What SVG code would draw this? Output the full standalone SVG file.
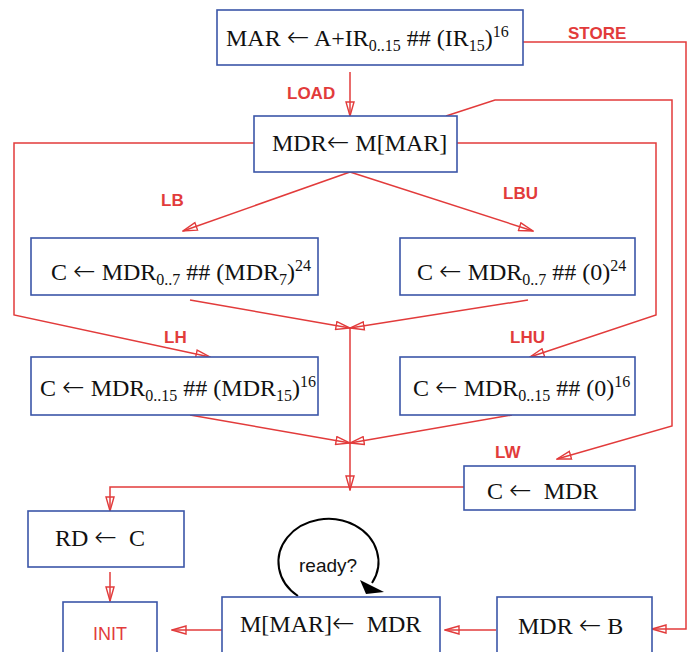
<svg xmlns="http://www.w3.org/2000/svg" width="688" height="652" viewBox="0 0 688 652">
<style>
.box{fill:#fff;stroke:#3b56a8;stroke-width:1.6}
.t{font-family:"Liberation Serif","Times New Roman",serif;font-size:24px;fill:#111}
.sb{font-size:16px}
.ar{font-family:"DejaVu Sans",sans-serif;font-weight:200;font-size:27px}
.lb{font-family:"Liberation Sans",Arial,sans-serif;font-weight:bold;font-size:17px;fill:#e23b3b}
.c{fill:none;stroke:#e23b3b;stroke-width:1.5}
</style>
<defs>
<marker id="ah" viewBox="0 0 16 10" refX="15" refY="5" markerWidth="16" markerHeight="10" markerUnits="userSpaceOnUse" orient="auto">
<path d="M1,1 L15,5 L1,9 Z" fill="none" stroke="#e23b3b" stroke-width="1.4"/>
</marker>
</defs>
<g id="connectors">
<path class="c" d="M350,72 L350,116" marker-end="url(#ah)"/>
<path class="c" d="M523,42 L686,42 L686,629 L652,629" marker-end="url(#ah)"/>
<path class="c" d="M446,116 L495,100 L672,100 L672,426 L557,459" marker-end="url(#ah)"/>
<path class="c" d="M457,143 L656,143 L656,315 L530,357" marker-end="url(#ah)"/>
<path class="c" d="M254,143 L14,143 L14,315 L210,357" marker-end="url(#ah)"/>
<path class="c" d="M350,172 L183,231" marker-end="url(#ah)"/>
<path class="c" d="M350,172 L533,231" marker-end="url(#ah)"/>
<path class="c" d="M190,300 L350,328" marker-end="url(#ah)"/>
<path class="c" d="M528,300 L350,328" marker-end="url(#ah)"/>
<path class="c" d="M350,328 L350,490" marker-end="url(#ah)"/>
<path class="c" d="M190,415 L350,443" marker-end="url(#ah)"/>
<path class="c" d="M512,415 L350,443" marker-end="url(#ah)"/>
<path class="c" d="M464,487 L110,487 L110,511" marker-end="url(#ah)"/>
<path class="c" d="M110,572 L110,601" marker-end="url(#ah)"/>
<path class="c" d="M222,630 L172,630" marker-end="url(#ah)"/>
<path class="c" d="M496,630 L445,630" marker-end="url(#ah)"/>
<path d="M298,596 A50,43 0 1 1 372,583" fill="none" stroke="#000" stroke-width="2"/>
<path d="M360,580 L384,592 L366,594 Z" fill="#000"/>
<text class="lb" x="568" y="39">STORE</text>
<text class="lb" x="287" y="99">LOAD</text>
<text class="lb" x="161" y="206">LB</text>
<text class="lb" x="503" y="199">LBU</text>
<text class="lb" x="164" y="343">LH</text>
<text class="lb" x="510" y="343">LHU</text>
<text class="lb" x="495" y="458">LW</text>
<text x="299" y="572" font-family="Liberation Sans,Arial,sans-serif" font-size="19" fill="#111">ready?</text>
</g>
<g id="n-mar">
<rect class="box" x="217" y="10" width="306" height="55"/>
<text class="t" x="226" y="46" xml:space="preserve">MAR <tspan class="ar">←</tspan> A+IR<tspan class="sb" dy="5">0..15</tspan><tspan dy="-5"> ## (IR</tspan><tspan class="sb" dy="5">15</tspan><tspan dy="-5">)</tspan><tspan class="sb" dy="-9">16</tspan></text>
</g>
<g id="n-mdr">
<rect class="box" x="254" y="116" width="203" height="56"/>
<text class="t" x="272" y="151">MDR<tspan class="ar">←</tspan> M[MAR]</text>
</g>
<g id="n-lb">
<rect class="box" x="31" y="238" width="287" height="57"/>
<text class="t" x="51" y="280">C <tspan class="ar">←</tspan> MDR<tspan class="sb" dy="5">0..7</tspan><tspan dy="-5"> ## (MDR</tspan><tspan class="sb" dy="5">7</tspan><tspan dy="-5">)</tspan><tspan class="sb" dy="-9">24</tspan></text>
</g>
<g id="n-lbu">
<rect class="box" x="400" y="238" width="235" height="57"/>
<text class="t" x="417" y="280">C <tspan class="ar">←</tspan> MDR<tspan class="sb" dy="5">0..7</tspan><tspan dy="-5"> ## (0)</tspan><tspan class="sb" dy="-9">24</tspan></text>
</g>
<g id="n-lh">
<rect class="box" x="31" y="357" width="287" height="58"/>
<text class="t" x="40" y="396">C <tspan class="ar">←</tspan> MDR<tspan class="sb" dy="5">0..15</tspan><tspan dy="-5"> ## (MDR</tspan><tspan class="sb" dy="5">15</tspan><tspan dy="-5">)</tspan><tspan class="sb" dy="-9">16</tspan></text>
</g>
<g id="n-lhu">
<rect class="box" x="400" y="357" width="235" height="58"/>
<text class="t" x="413" y="396">C <tspan class="ar">←</tspan> MDR<tspan class="sb" dy="5">0..15</tspan><tspan dy="-5"> ## (0)</tspan><tspan class="sb" dy="-9">16</tspan></text>
</g>
<g id="n-lw">
<rect class="box" x="464" y="466" width="171" height="44"/>
<text class="t" x="487" y="499" xml:space="preserve">C <tspan class="ar">←</tspan>  MDR</text>
</g>
<g id="n-rd">
<rect class="box" x="28" y="511" width="156" height="56"/>
<text class="t" x="55" y="546" xml:space="preserve">RD <tspan class="ar">←</tspan>  C</text>
</g>
<g id="n-init">
<rect class="box" x="63" y="602" width="94" height="60"/>
<text x="93" y="640" font-family="Liberation Sans,Arial,sans-serif" font-size="18" fill="#e23b3b">INIT</text>
</g>
<g id="n-mem">
<rect class="box" x="222" y="597" width="218" height="65"/>
<text class="t" x="240" y="632" xml:space="preserve">M[MAR]<tspan class="ar">←</tspan>  MDR</text>
</g>
<g id="n-mdrb">
<rect class="box" x="497" y="597" width="155" height="65"/>
<text class="t" x="518" y="634" xml:space="preserve">MDR <tspan class="ar">←</tspan> B</text>
</g>
</svg>
